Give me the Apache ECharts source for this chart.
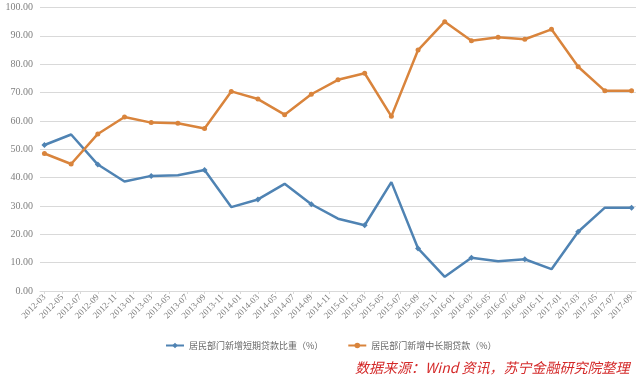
<!DOCTYPE html>
<html>
<head>
<meta charset="utf-8">
<script src="https://cdn.jsdelivr.net/npm/echarts@6/dist/echarts.min.js"></script>
<style>html,body{margin:0;padding:0;background:#fff}#c{width:640px;height:384px}</style>
</head>
<body>
<div id="c"></div>
<script>
// Monthly axis categories (labels shown every other month)
var axisMonths = [
 '2012-03','2012-04','2012-05','2012-06','2012-07','2012-08','2012-09','2012-10','2012-11','2012-12',
 '2013-01','2013-02','2013-03','2013-04','2013-05','2013-06','2013-07','2013-08','2013-09','2013-10','2013-11','2013-12',
 '2014-01','2014-02','2014-03','2014-04','2014-05','2014-06','2014-07','2014-08','2014-09','2014-10','2014-11','2014-12',
 '2015-01','2015-02','2015-03','2015-04','2015-05','2015-06','2015-07','2015-08','2015-09','2015-10','2015-11','2015-12',
 '2016-01','2016-02','2016-03','2016-04','2016-05','2016-06','2016-07','2016-08','2016-09','2016-10','2016-11','2016-12',
 '2017-01','2017-02','2017-03','2017-04','2017-05','2017-06','2017-07','2017-08','2017-09'
];
// Quarterly observation dates
var quarters = [
 '2012-03','2012-06','2012-09','2012-12',
 '2013-03','2013-06','2013-09','2013-12',
 '2014-03','2014-06','2014-09','2014-12',
 '2015-03','2015-06','2015-09','2015-12',
 '2016-03','2016-06','2016-09','2016-12',
 '2017-03','2017-06','2017-09'
];
var shortShare = [51.5,55.2,44.6,38.6,40.6,40.8,42.7,29.6,32.3,37.8,30.6,25.5,23.2,38.4,15.0,5.0,11.7,10.5,11.2,7.7,20.9,29.4,29.4];
var longShare  = [48.5,44.8,55.4,61.4,59.4,59.2,57.3,70.4,67.7,62.2,69.4,74.5,76.8,61.6,85.0,95.0,88.3,89.5,88.8,92.3,79.1,70.6,70.6];
var yTicks = [0,10,20,30,40,50,60,70,80,90,100];
var seriesNames = ['居民部门新增短期贷款比重（%）','居民部门新增中长期贷款（%）'];

var chart = echarts.init(document.getElementById('c'), null, {renderer:'canvas'});
function pairs(vals){ return quarters.map(function(q,i){ return [q, vals[i]]; }); }
var numFont = 'Liberation Serif';
chart.setOption({
  animation:false,
  backgroundColor:'#ffffff',
  grid:{left:40,right:4,top:7.5,bottom:93},
  xAxis:{
    type:'category',
    data:axisMonths,
    boundaryGap:true,
    axisLine:{lineStyle:{color:'#d9d9d9'}},
    axisTick:{show:true,interval:1,alignWithLabel:true,length:3,lineStyle:{color:'#d9d9d9'}},
    axisLabel:{interval:1,rotate:45,fontSize:9,color:'#808080',fontFamily:numFont,margin:5}
  },
  yAxis:{
    type:'value',min:yTicks[0],max:yTicks[yTicks.length-1],interval:10,
    axisLine:{show:false},axisTick:{show:false},
    splitLine:{lineStyle:{color:'#d9d9d9',width:1}},
    axisLabel:{formatter:function(v){return v.toFixed(2);},fontSize:10,color:'#808080',fontFamily:numFont,margin:7}
  },
  legend:{
    left:160,top:336,itemWidth:18,itemHeight:7,itemGap:24,
    textStyle:{fontSize:9,color:'#666666',fontFamily:'Noto Sans CJK SC'},
    data:seriesNames
  },
  series:[
    {name:seriesNames[0],type:'line',data:pairs(shortShare),connectNulls:true,
     symbol:'diamond',symbolSize:6,
     lineStyle:{color:'#4f83b3',width:2.5},itemStyle:{color:'#4f83b3'}},
    {name:seriesNames[1],type:'line',data:pairs(longShare),connectNulls:true,
     symbol:'circle',symbolSize:5,
     lineStyle:{color:'#d9843c',width:2.5},itemStyle:{color:'#d9843c'}}
  ],
  graphic:[
    {type:'text',left:355,top:361,
     style:{text:'数据来源：Wind 资讯，苏宁金融研究院整理',fill:'#d42a2a',
            font:'italic 14px "Noto Sans CJK SC", sans-serif'}}
  ]
});
</script>
</body>
</html>
